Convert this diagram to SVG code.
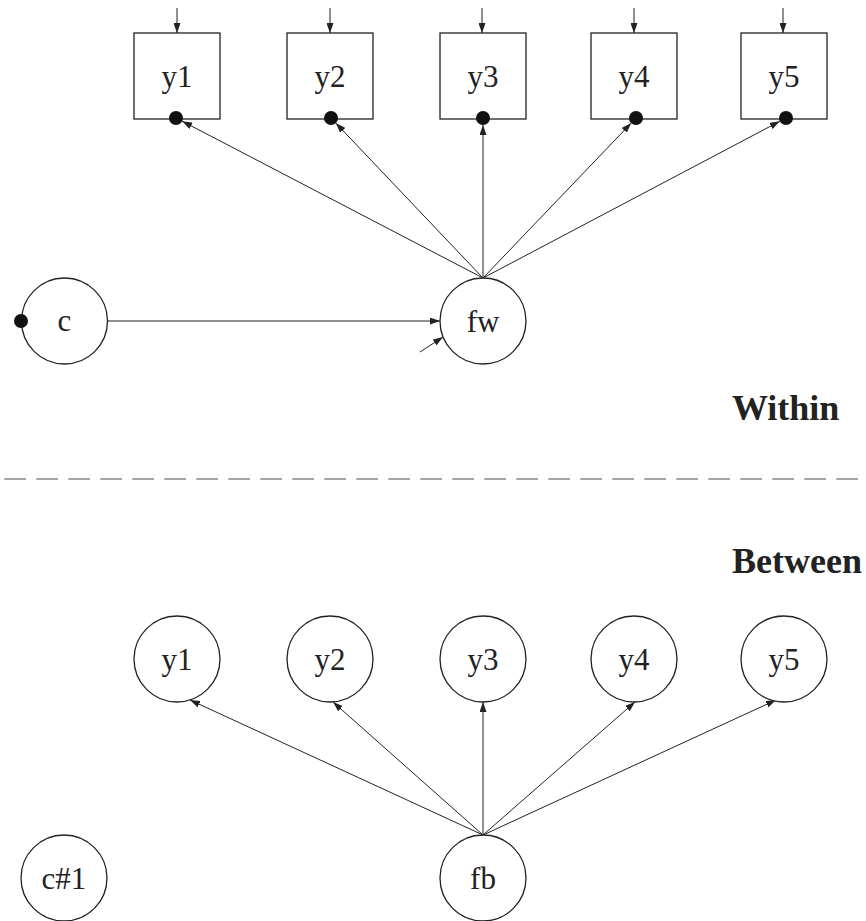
<svg xmlns="http://www.w3.org/2000/svg" width="866" height="921" viewBox="0 0 866 921">
<style>
.shape{fill:#fff;stroke:#222;stroke-width:1.3}
.ln{stroke:#222;stroke-width:1;fill:none}
.lbl{font-family:"Liberation Serif","Times New Roman",serif;font-size:31px;fill:#222;text-anchor:middle}
.sec{font-family:"Liberation Serif","Times New Roman",serif;font-size:36px;font-weight:bold;fill:#222}
.dot{fill:#111}
</style>
<defs>
<marker id="ah" markerUnits="userSpaceOnUse" markerWidth="10" markerHeight="7" refX="10" refY="3.5" orient="auto">
<path d="M0,0 L10,3.5 L0,7 z" fill="#222"/>
</marker>
</defs>
<rect width="866" height="921" fill="#fff"/>
<g id="connectors">
<line class="ln" x1="177" y1="8" x2="177" y2="33" marker-end="url(#ah)"/>
<line class="ln" x1="330" y1="8" x2="330" y2="33" marker-end="url(#ah)"/>
<line class="ln" x1="482" y1="8" x2="482" y2="33" marker-end="url(#ah)"/>
<line class="ln" x1="634" y1="8" x2="634" y2="33" marker-end="url(#ah)"/>
<line class="ln" x1="783" y1="8" x2="783" y2="33" marker-end="url(#ah)"/>
<line class="ln" x1="483" y1="278" x2="182.2" y2="121.2" marker-end="url(#ah)"/>
<line class="ln" x1="483" y1="278" x2="335.8" y2="123.1" marker-end="url(#ah)"/>
<line class="ln" x1="483" y1="278" x2="483" y2="125" marker-end="url(#ah)"/>
<line class="ln" x1="483" y1="278" x2="631.2" y2="123.1" marker-end="url(#ah)"/>
<line class="ln" x1="483" y1="278" x2="779.8" y2="121.3" marker-end="url(#ah)"/>
<line class="ln" x1="107.5" y1="321" x2="440" y2="321" marker-end="url(#ah)"/>
<line class="ln" x1="420" y1="352" x2="443" y2="337" marker-end="url(#ah)"/>
<line class="ln" x1="483" y1="835" x2="190" y2="700" marker-end="url(#ah)"/>
<line class="ln" x1="483" y1="835" x2="333" y2="702" marker-end="url(#ah)"/>
<line class="ln" x1="483" y1="835" x2="483" y2="702" marker-end="url(#ah)"/>
<line class="ln" x1="483" y1="835" x2="635" y2="702" marker-end="url(#ah)"/>
<line class="ln" x1="483" y1="835" x2="776" y2="700" marker-end="url(#ah)"/>
</g>
<g id="w_y1"><rect class="shape" x="134" y="33" width="86" height="86"/><text class="lbl" x="177" y="87">y1</text><circle class="dot" cx="176" cy="118" r="7"/></g>
<g id="w_y2"><rect class="shape" x="287" y="33" width="86" height="86"/><text class="lbl" x="330" y="87">y2</text><circle class="dot" cx="331" cy="118" r="7"/></g>
<g id="w_y3"><rect class="shape" x="440" y="33" width="86" height="86"/><text class="lbl" x="483" y="87">y3</text><circle class="dot" cx="483" cy="118" r="7"/></g>
<g id="w_y4"><rect class="shape" x="591" y="33" width="86" height="86"/><text class="lbl" x="634" y="87">y4</text><circle class="dot" cx="636" cy="118" r="7"/></g>
<g id="w_y5"><rect class="shape" x="741" y="33" width="86" height="86"/><text class="lbl" x="784" y="87">y5</text><circle class="dot" cx="786" cy="118" r="7"/></g>
<g id="w_c"><circle class="shape" cx="64.5" cy="321" r="43"/><text class="lbl" x="64.5" y="331">c</text><circle class="dot" cx="21" cy="321" r="7"/></g>
<g id="w_fw"><circle class="shape" cx="483" cy="321" r="43"/><text class="lbl" x="483" y="332">fw</text></g>
<g id="labels">
<text class="sec" x="732" y="420">Within</text>
<line x1="4.3" y1="479" x2="866" y2="479" stroke="#888" stroke-width="1.5" stroke-dasharray="21.7,10.3"/>
<text class="sec" x="732" y="573">Between</text>
</g>
<g id="b_y1"><circle class="shape" cx="177" cy="659" r="43"/><text class="lbl" x="177" y="670">y1</text></g>
<g id="b_y2"><circle class="shape" cx="330" cy="659" r="43"/><text class="lbl" x="330" y="670">y2</text></g>
<g id="b_y3"><circle class="shape" cx="483" cy="659" r="43"/><text class="lbl" x="483" y="670">y3</text></g>
<g id="b_y4"><circle class="shape" cx="634" cy="659" r="43"/><text class="lbl" x="634" y="670">y4</text></g>
<g id="b_y5"><circle class="shape" cx="784" cy="659" r="43"/><text class="lbl" x="784" y="670">y5</text></g>
<g id="b_c1"><circle class="shape" cx="64" cy="878" r="43"/><text class="lbl" x="64" y="889">c#1</text></g>
<g id="b_fb"><circle class="shape" cx="483" cy="878" r="43"/><text class="lbl" x="483" y="889">fb</text></g>
</svg>
